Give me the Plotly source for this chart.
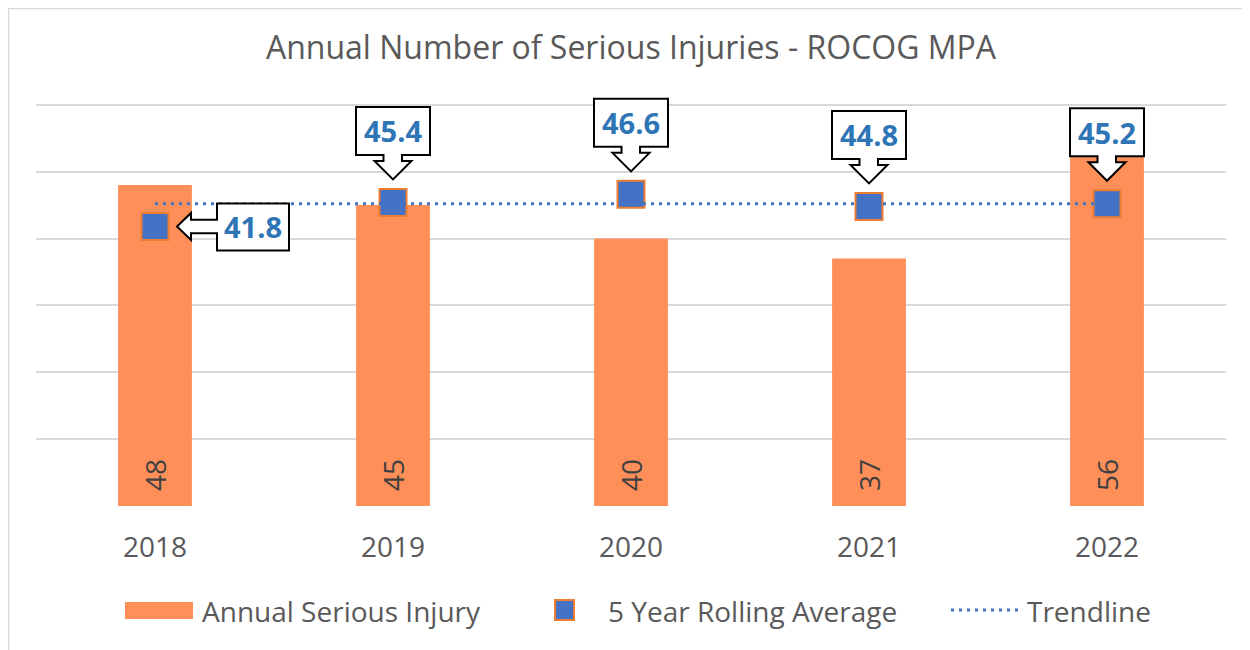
import plotly.graph_objects as go

# ---------------- data ----------------
years = ["2018", "2019", "2020", "2021", "2022"]
annual_injuries = [48, 45, 40, 37, 56]
rolling_avg = [41.8, 45.4, 46.6, 44.8, 45.2]
trendline = [45.2, 45.2, 45.2, 45.2, 45.2]
y_ticks = [0, 10, 20, 30, 40, 50, 60]
title_text = "Annual Number of Serious Injuries - ROCOG MPA"
legend_labels = ["Annual Serious Injury", "5 Year Rolling Average", "Trendline"]

# ---------------- style / layout ----------------
OFF = 8                      # page body margin of the generated html
W, H = 1250 - OFF, 650 - OFF
ML, MR, MT, MB = 36 - OFF, 24, 78 - OFF, 144
FONT = "Open Sans"
BAR_COLOR = "#FF8F59"
MARK_FILL = "#4472C4"
MARK_LINE = "#ED7D31"
TREND_COLOR = "#4472C4"
GRID = "#D9D9D9"
TXT = "#595959"
CALLOUT_TXT = "#2E75B6"

plot_w = W - ML - MR
plot_h = H - MT - MB


def px_x(px):
    """page pixel -> paper x"""
    return (px - OFF - ML) / plot_w


def px_y(py):
    """page pixel -> paper y"""
    return (H - MB - (py - OFF)) / plot_h


x_idx = list(range(len(years)))

fig = go.Figure()
fig.add_trace(go.Bar(
    x=x_idx, y=annual_injuries, width=0.31,
    marker=dict(color=BAR_COLOR, line=dict(width=0)),
    name=legend_labels[0], showlegend=False, hoverinfo="y",
))
fig.add_trace(go.Scatter(
    x=x_idx, y=rolling_avg, mode="markers",
    marker=dict(symbol="square", size=27, color=MARK_FILL,
                line=dict(color=MARK_LINE, width=2)),
    name=legend_labels[1], showlegend=False,
))
fig.add_trace(go.Scatter(
    x=x_idx, y=trendline, mode="lines",
    line=dict(color=TREND_COLOR, width=3, dash="3px,5px"),
    name=legend_labels[2], showlegend=False, hoverinfo="skip",
))

shapes = []
annotations = []

DOWN_PATH = ("M -37,95.5 L 37,95.5 L 37,47.5 L 9,47.5 L 9,41.5 L 18.5,41.5 "
             "L 0,23 L -18.5,41.5 L -9.5,41.5 L -9.5,47.5 L -37,47.5 Z")
LEFT_PATH = ("M 22,0 L 36,13.5 L 36,6.7 L 62,6.7 L 62,23 L 134,23 L 134,-24 "
             "L 62,-24 L 62,-6.7 L 36,-6.7 L 36,-13.5 Z")

for i, v in zip(x_idx, rolling_avg):
    left = (i == 0)
    shapes.append(dict(
        type="path", xref="x", yref="y", xsizemode="pixel", ysizemode="pixel",
        xanchor=i, yanchor=v, path=LEFT_PATH if left else DOWN_PATH,
        fillcolor="white", line=dict(color="black", width=2), layer="above",
    ))
    annotations.append(dict(
        x=i, y=v, xref="x", yref="y", text=f"{v:.1f}", showarrow=False,
        xshift=98 if left else 0, yshift=0 if left else 71.5,
        font=dict(family=FONT, size=29, color=CALLOUT_TXT, weight="bold"),
        xanchor="center", yanchor="middle",
    ))

for i, v in zip(x_idx, annual_injuries):
    annotations.append(dict(
        x=i, y=0, xref="x", yref="y", text=str(v), showarrow=False,
        textangle=-90, yshift=31, xanchor="center", yanchor="middle",
        font=dict(family=FONT, size=28, color="#404040"),
    ))

# ---- legend (drawn) ----
LEG_Y = 610
shapes.append(dict(type="rect", xref="paper", yref="paper",
                   x0=px_x(125), x1=px_x(193), y0=px_y(619), y1=px_y(602),
                   fillcolor=BAR_COLOR, line=dict(width=0)))
shapes.append(dict(type="rect", xref="paper", yref="paper",
                   x0=px_x(555), x1=px_x(574), y0=px_y(620), y1=px_y(600),
                   fillcolor=MARK_FILL, line=dict(color=MARK_LINE, width=2)))
shapes.append(dict(type="line", xref="paper", yref="paper",
                   x0=px_x(951), x1=px_x(1020), y0=px_y(LEG_Y), y1=px_y(LEG_Y),
                   line=dict(color=TREND_COLOR, width=3, dash="3px,5px")))
for lx, lab in zip([200, 606, 1025], legend_labels):
    annotations.append(dict(
        x=px_x(lx), y=px_y(LEG_Y + 1), xref="paper", yref="paper", text=lab,
        showarrow=False, xanchor="left", yanchor="middle",
        font=dict(family=FONT, size=28, color=TXT),
    ))

# ---- chart border (left and top edges) ----
shapes.append(dict(type="line", xref="paper", yref="paper",
                   x0=px_x(8.6), x1=px_x(8.6), y0=px_y(8), y1=px_y(660),
                   line=dict(color=GRID, width=1.5)))
shapes.append(dict(type="line", xref="paper", yref="paper",
                   x0=px_x(8), x1=px_x(1260), y0=px_y(8.6), y1=px_y(8.6),
                   line=dict(color=GRID, width=1.5)))

fig.update_layout(
    width=W, height=H,
    margin=dict(l=ML, r=MR, t=MT, b=MB, pad=0),
    paper_bgcolor="white", plot_bgcolor="white",
    font=dict(family=FONT, color=TXT),
    title=dict(text=title_text, x=0.5, xref="paper", xanchor="center",
               y=1 - (48 - OFF) / H, yref="container", yanchor="middle",
               font=dict(family=FONT, size=32, color=TXT)),
    shapes=shapes, annotations=annotations,
    showlegend=False,
    xaxis=dict(range=[-0.5, len(years) - 0.5], tickvals=x_idx, ticktext=years,
               showgrid=False, zeroline=False, showline=False, ticks="",
               tickfont=dict(family=FONT, size=28, color=TXT),
               ticklabelstandoff=22, fixedrange=True),
    yaxis=dict(range=[0, 64], tickvals=y_ticks, showticklabels=False,
               showgrid=True, gridcolor=GRID, gridwidth=2, zeroline=False,
               showline=False, ticks="", fixedrange=True),
)

fig.write_html("out.html")
